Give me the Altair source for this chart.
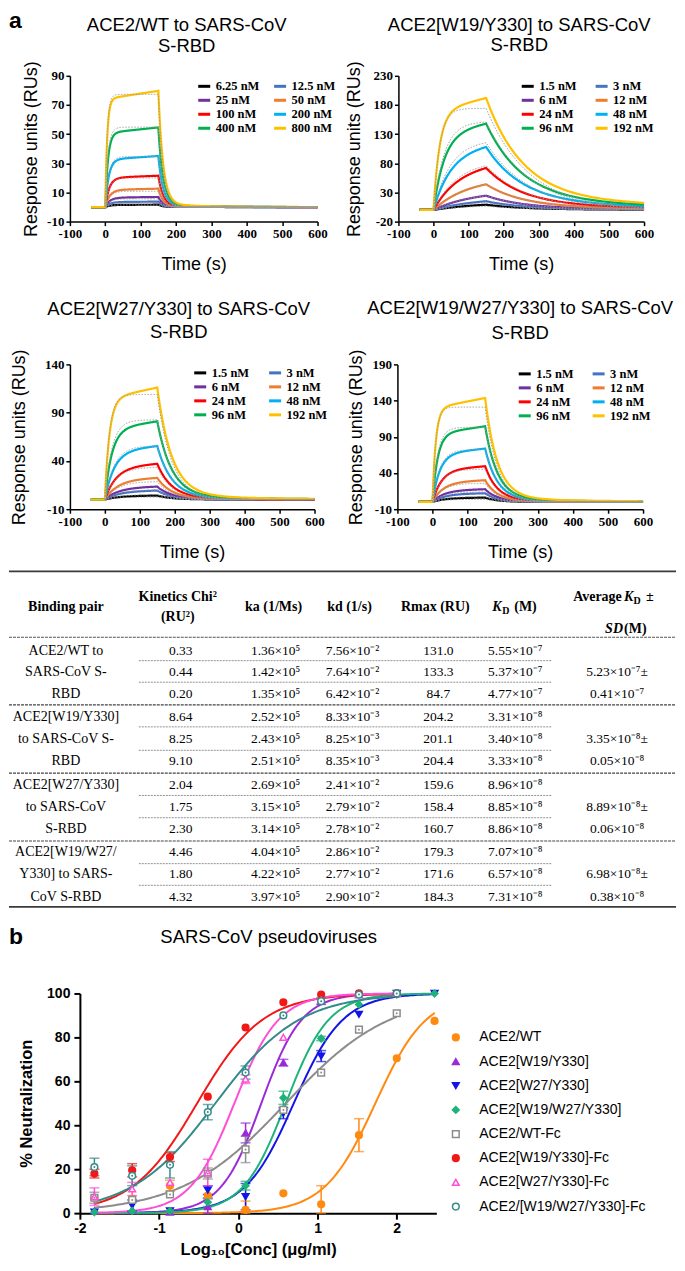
import numpy as np
import pandas as pd
import altair as alt

alt.data_transformers.disable_max_rows()

SERIF = "Liberation Serif"
SANS = "Liberation Sans"

# ======================= DATA: kinetics table =======================
pair_lines = [
    ["ACE2/WT to", "SARS-CoV S-", "RBD"],
    ["ACE2[W19/Y330]", "to SARS-CoV S-", "RBD"],
    ["ACE2[W27/Y330]", "to SARS-CoV", "S-RBD"],
    ["ACE2[W19/W27/", "Y330] to SARS-", "CoV S-RBD"],
]
chi2_RU2 = [0.33, 0.44, 0.20, 8.64, 8.25, 9.10, 2.04, 1.75, 2.30, 4.46, 1.80, 4.32]
ka_mant = [1.36, 1.42, 1.35, 2.52, 2.43, 2.51, 2.69, 3.15, 3.14, 4.04, 4.22, 3.97]
ka_exp = [5] * 12
kd_mant = [7.56, 7.64, 6.42, 8.33, 8.25, 8.35, 2.41, 2.79, 2.78, 2.86, 2.77, 2.90]
kd_exp = [-2, -2, -2, -3, -3, -3, -2, -2, -2, -2, -2, -2]
rmax_RU = [131.0, 133.3, 84.7, 204.2, 201.1, 204.4, 159.6, 158.4, 160.7, 179.3, 171.6, 184.3]
KD_mant = [5.55, 5.37, 4.77, 3.31, 3.40, 3.33, 8.96, 8.85, 8.86, 7.07, 6.57, 7.31]
KD_exp = [-7, -7, -7, -8, -8, -8, -8, -8, -8, -8, -8, -8]
avg_mant = [5.23, 3.35, 8.89, 6.98]
sd_mant = [0.41, 0.05, 0.06, 0.38]
avg_exp = [-7, -8, -8, -8]

# ======================= DATA: panel a (SPR sensorgrams) =======================
spr_titles = [
    ["ACE2/WT to SARS-CoV", "S-RBD"],
    ["ACE2[W19/Y330] to SARS-CoV", "S-RBD"],
    ["ACE2[W27/Y330] to SARS-CoV", "S-RBD"],
    ["ACE2[W19/W27/Y330] to SARS-CoV", "S-RBD"],
]
spr_conc_nM = [
    [6.25, 12.5, 25, 50, 100, 200, 400, 800],
    [1.5, 3, 6, 12, 24, 48, 96, 192],
    [1.5, 3, 6, 12, 24, 48, 96, 192],
    [1.5, 3, 6, 12, 24, 48, 96, 192],
]
# response at end of injection (t = 150 s)
spr_peak_RU = [
    [1.6, 3.7, 6.9, 12.6, 21.5, 35.0, 54.6, 79.7],
    [9.0, 15.0, 24.5, 44.0, 72.0, 108.0, 148.0, 192.0],
    [4.1, 9.3, 13.4, 22.4, 37.0, 55.4, 81.0, 116.0],
    [6.0, 12.0, 17.6, 30.0, 49.3, 73.7, 104.5, 143.6],
]
spr_drift = [0.07, 0.12, 0.10, 0.10]                  # slow drift share during injection
spr_dissoc = [(0.97, 0.0756, 0.010), (0.90, 0.0095, 0.0015),
              (0.96, 0.0241, 0.004), (0.96, 0.0286, 0.004)]  # (fast share, fast rate, slow rate)
spr_ydomain = [[-10, 90], [-20, 230], [-10, 140], [-10, 190]]
spr_yticks = [[-10, 10, 30, 50, 70, 90], [-20, 30, 80, 130, 180, 230],
              [-10, 40, 90, 140], [-10, 40, 90, 140, 190]]
time_ticks = [-100, 0, 100, 200, 300, 400, 500, 600]
spr_colors = ["#000000", "#4472C4", "#7030A0", "#ED7D31", "#FF0000", "#00B0F0", "#00B050", "#FFC000"]

# ======================= DATA: panel b (neutralization) =======================
nt_series = ["ACE2/WT", "ACE2[W19/Y330]", "ACE2[W27/Y330]", "ACE2[W19/W27/Y330]",
             "ACE2/WT-Fc", "ACE2[W19/Y330]-Fc", "ACE2[W27/Y330]-Fc", "ACE2/[W19/W27/Y330]-Fc"]
nt_colors = ["#FF8A12", "#9A2BD8", "#1414E6", "#1DB37A", "#8C8C8C", "#F21818", "#FF4FD8", "#378A8A"]
nt_shapes = ["circle", "triangle-up", "triangle-down", "diamond", "square", "circle", "triangle-up", "circle"]
nt_open = [False, False, False, False, True, False, True, True]
nt_conc_ugml = [0.01524, 0.04572, 0.1372, 0.4115, 1.235, 3.704, 11.11, 33.33, 100.0, 300.0]
nt_mean = [
    [7, 6.5, 12.5, 8, 1.5, 9, 4, 35.5, 70.5, 87.5],
    [1, 1.5, 0.5, 3, 36.5, 68.5, 96.5, 99.5, 100, None],
    [0.5, 3.5, 1, 10.5, 7.5, 45.5, 71.5, 90.5, 100, 100],
    [0.5, 1, 1, 5, 12.5, 52.5, 79.5, 95, 99.5, 100],
    [7, 6, 8.5, 18, 29, 47, 64, 83.5, 91, None],
    [18, 19.5, 25.5, 53, 84.5, 96, 99.5, 100, 100, None],
    [7.5, 11, 14, 18.5, 61, 80, 97, 99.5, 100, None],
    [21, 17, 22, 46, 64, 90, 96.5, 99.5, 100, None],
]
nt_err = [
    [0, 0, 2.5, 0, 4, 0, 8.5, 7.5, 0, 0],
    [0, 0, 0, 3.5, 4.5, 1.5, 0, 0, 0, 0],
    [0, 2.5, 0, 2, 6, 2.5, 2.5, 0, 0, 0],
    [0, 0, 0, 2, 2, 3, 1, 0, 0, 0],
    [2.5, 0, 0, 2.5, 6, 0, 0, 0, 0, 0],
    [2, 3, 2, 0, 0, 0, 0, 0, 0, 0],
    [4, 3, 0, 6, 2, 0, 0, 0, 0, 0],
    [4, 4.5, 6, 3.5, 3, 0, 1.5, 0, 0, 0],
]
nt_logec50 = [1.73, 0.29, 0.70, 0.60, 0.60, -0.52, -0.05, -0.29]
nt_hill = [1.35, 1.7, 1.4, 1.6, 0.66, 1.05, 1.55, 0.82]
nt_xmax = [2.48, 2.0, 2.48, 2.48, 2.0, 2.0, 2.0, 2.0]

# ======================= helpers =======================
SUP = str.maketrans("-0123456789", "⁻⁰¹²³⁴⁵⁶⁷⁸⁹")
HYPHEN = "replace(datum.label, '\u2212', '-')"
NO_VIEW = alt.ViewBackground(strokeWidth=0, stroke="transparent")


def sci(m, e):
    return f"{m:.2f}×10" + str(e).translate(SUP)


def text_layer(s, x, y, font=SANS, size=18.5, weight="normal", style="normal",
               align="center", baseline="middle"):
    return alt.Chart(pd.DataFrame({"s": [s]})).mark_text(
        font=font, fontSize=size, fontWeight=weight, fontStyle=style,
        align=align, baseline=baseline, color="black"
    ).encode(text="s:N", x=alt.value(x), y=alt.value(y))


def anchor_layer(x, y1, y2):
    return alt.Chart(pd.DataFrame({"z": [0]})).mark_rule(
        color="white", strokeOpacity=0.01, strokeWidth=0.5
    ).encode(x=alt.value(x), y=alt.value(y1), y2=alt.value(y2))


# ======================= panel a =======================
T_GRID = np.concatenate([[-40.0], np.arange(0, 150, 1.0), [150.0],
                         np.arange(152, 250, 2.0), np.arange(250, 601, 5.0)])


def spr_frame(i):
    ka = ka_mant[3 * i] * 10.0 ** ka_exp[3 * i]
    kd = kd_mant[3 * i] * 10.0 ** kd_exp[3 * i]
    rm = rmax_RU[3 * i]
    f = spr_drift[i]
    a, k1, k2 = spr_dissoc[i]
    rows = []
    for c, P in zip(spr_conc_nM[i], spr_peak_RU[i]):
        lab = f"{c:g} nM"
        C = c * 1e-9
        kobs = ka * C + kd
        req = rm * C / (C + kd / ka)
        norm = 1 - np.exp(-kobs * 150)
        fit150 = req * norm
        for t in T_GRID:
            if t < 0:
                r = 0.0
            elif t <= 150:
                r = P * ((1 - f) * (1 - np.exp(-kobs * t)) / norm + f * t / 150)
            else:
                dt = t - 150
                r = P * (a * np.exp(-k1 * dt) + (1 - a) * np.exp(-k2 * dt))
            rows.append((float(t), round(float(r), 3), lab, "data"))
            if t >= 0:
                fv = req * (1 - np.exp(-kobs * t)) if t <= 150 else fit150 * np.exp(-kd * (t - 150))
                rows.append((float(t), round(float(fv), 3), lab, "fit"))
    return pd.DataFrame(rows, columns=["t", "R", "label", "kind"])


AX_SPR = dict(domainColor="black", domainWidth=1.5, tickColor="black", tickWidth=1.5,
              tickSize=4, labelPadding=2, labelFont=SERIF, labelFontWeight="bold",
              labelFontSize=13, labelColor="black", titleFont=SANS, titleFontSize=18,
              titleFontWeight="normal", titleColor="black", grid=False,
              labelFlush=False, labelOverlap=False, labelExpr=HYPHEN)

SPR_LAYOUT = [
    dict(w=248, h=146, E=24, P=5, tx=117, ty=(-51, -30), lx=127, ly=3, cp=8),
    dict(w=246, h=146, E=26, P=9, tx=121, ty=(-51, -31), lx=122, ly=3, cp=12),
    dict(w=245, h=145, E=26, P=15, tx=109, ty=(-55, -32), lx=123, ly=1, cp=13),
    dict(w=246, h=145, E=26, P=6, tx=123, ty=(-56, -31), lx=120, ly=2, cp=12),
]


def spr_panel(i, extra=()):
    L = SPR_LAYOUT[i]
    df = spr_frame(i)
    labels = [f"{c:g} nM" for c in spr_conc_nM[i]]
    xenc = alt.X("t:Q", scale=alt.Scale(domain=[-100, 600], nice=False, zero=False),
                 axis=alt.Axis(values=time_ticks, title="Time (s)", titlePadding=15, **AX_SPR))
    yenc = alt.Y("R:Q", scale=alt.Scale(domain=spr_ydomain[i], nice=False, zero=False),
                 axis=alt.Axis(values=spr_yticks[i], title="Response units (RUs)",
                               titlePadding=L["P"], minExtent=L["E"], maxExtent=L["E"], **AX_SPR))
    legend = alt.Legend(orient="none", legendX=L["lx"], legendY=L["ly"], columns=2,
                        direction="horizontal",
                        symbolType="stroke", symbolStrokeWidth=3, symbolSize=144,
                        labelFont=SERIF, labelFontWeight="bold", labelFontSize=12.5,
                        labelColor="black", columnPadding=L["cp"], rowPadding=-1.4,
                        title=None, padding=0, labelOffset=4, labelLimit=300)
    data_line = alt.Chart(df[df.kind == "data"]).mark_line(strokeWidth=2.2).encode(
        x=xenc, y=yenc,
        color=alt.Color("label:N", scale=alt.Scale(domain=labels, range=spr_colors),
                        sort=labels, legend=legend))
    fit_line = alt.Chart(df[df.kind == "fit"]).mark_line(
        strokeWidth=1.0, strokeDash=[1.5, 1.5], color="#9a9a9a").encode(
        x=xenc, y=yenc, detail="label:N")
    t1 = text_layer(spr_titles[i][0], L["tx"], L["ty"][0])
    t2 = text_layer(spr_titles[i][1], L["tx"], L["ty"][1])
    return alt.layer(data_line, fit_line, t1, t2, *extra).properties(
        width=L["w"], height=L["h"], view=NO_VIEW)


p1 = spr_panel(0, extra=[
    text_layer("a", -61, -66, size=23, weight="bold", align="left", baseline="top"),
    anchor_layer(-61, -66, 204),
])
p2 = spr_panel(1)
p3 = spr_panel(2, extra=[anchor_layer(-58, -83, 198)])
p4 = spr_panel(3)

row1 = alt.hconcat(p1, p2, spacing=81, bounds="flush").resolve_scale(
    x="independent", y="independent", color="independent")
row2 = alt.hconcat(p3, p4, spacing=83, bounds="flush").resolve_scale(
    x="independent", y="independent", color="independent")

# ======================= table =======================
col_x = {"pair": 65, "chi": 180, "ka": 275, "kd": 352, "rmax": 438, "KD": 515, "avg": 617}
row_y = [647, 668.5, 690, 713, 735, 757, 781, 803, 825, 848, 870.5, 893]

body = []
for i in range(12):
    g, r = divmod(i, 3)
    body.append((pair_lines[g][r], col_x["pair"], row_y[i], 14))
    body.append((f"{chi2_RU2[i]:.2f}", col_x["chi"], row_y[i], 13.5))
    body.append((sci(ka_mant[i], ka_exp[i]), col_x["ka"], row_y[i], 13.5))
    body.append((sci(kd_mant[i], kd_exp[i]), col_x["kd"], row_y[i], 13.5))
    body.append((f"{rmax_RU[i]:.1f}", col_x["rmax"], row_y[i], 13.5))
    body.append((sci(KD_mant[i], KD_exp[i]), col_x["KD"], row_y[i], 13.5))
for g in range(4):
    body.append((sci(avg_mant[g], avg_exp[g]) + "±", col_x["avg"], row_y[3 * g + 1], 13.5))
    body.append((sci(sd_mant[g], avg_exp[g]), col_x["avg"], row_y[3 * g + 2], 13.5))
body_df = pd.DataFrame(body, columns=["text", "x", "y", "size"])

header = [
    ("Binding pair", 65, 603, "b", "center"),
    ("Kinetics Chi²", 177, 593, "b", "center"),
    ("(RU²)", 177, 613, "b", "center"),
    ("ka (1/Ms)", 273, 603, "b", "center"),
    ("kd (1/s)", 349, 603, "b", "center"),
    ("Rmax (RU)", 435, 603, "b", "center"),
    ("K", 492, 603, "bi", "left"),
    ("D", 502, 607, "bs", "left"),
    ("(M)", 514, 603, "b", "left"),
    ("Average", 573, 593, "b", "left"),
    ("K", 624, 593, "bi", "left"),
    ("D", 633.5, 597, "bs", "left"),
    ("±", 646, 593, "b", "left"),
    ("SD", 605, 625, "bi", "left"),
    ("(M)", 624, 625, "b", "left"),
]
hdr_df = pd.DataFrame(header, columns=["text", "x", "y", "style", "align"])

lines = [(8, 676, 567.3, "solid"), (8, 676, 633.3, "hdr"),
         (8, 676, 701, "grp"), (8, 676, 769.3, "grp"), (8, 676, 837.3, "grp"),
         (8, 676, 903.3, "solid")]
for yy in [656.7, 678.3, 723, 746.5, 791.7, 814, 860, 881.7]:
    lines.append((138, 552, yy, "intra"))
lines_df = pd.DataFrame(lines, columns=["x1", "x2", "y", "kind"])

TABLE_W = 608
TX = alt.Scale(domain=[69, 69 + TABLE_W], nice=False, zero=False)
TY = alt.Scale(domain=[560, 910], reverse=True, nice=False, zero=False)


def tline(kind, **mk):
    d = lines_df[lines_df.kind == kind]
    return alt.Chart(d).mark_rule(**mk).encode(
        x=alt.X("x1:Q", scale=TX, axis=None), x2="x2:Q",
        y=alt.Y("y:Q", scale=TY, axis=None))


def ttext(d, **mk):
    return alt.Chart(d).mark_text(font=SERIF, color="black", baseline="middle", **mk).encode(
        x=alt.X("x:Q", scale=TX, axis=None), y=alt.Y("y:Q", scale=TY, axis=None), text="text:N")


table_layers = [
    tline("solid", color="#3a3a3a", strokeWidth=1.6),
    tline("hdr", color="#555555", strokeWidth=1.1, strokeDash=[3, 1]),
    tline("grp", color="#444444", strokeWidth=1.2, strokeDash=[3, 1]),
    tline("intra", color="#777777", strokeWidth=0.8, strokeDash=[2, 1]),
    ttext(body_df[body_df["size"] == 14], fontSize=14, align="center"),
    ttext(body_df[body_df["size"] == 13.5], fontSize=13.5, align="center"),
    ttext(hdr_df[(hdr_df["style"] == "b") & (hdr_df["align"] == "center")], fontSize=14, fontWeight="bold", align="center"),
    ttext(hdr_df[(hdr_df["style"] == "b") & (hdr_df["align"] == "left")], fontSize=14, fontWeight="bold", align="left"),
    ttext(hdr_df[hdr_df["style"] == "bi"], fontSize=14, fontWeight="bold", fontStyle="italic", align="left"),
    ttext(hdr_df[hdr_df["style"] == "bs"], fontSize=10, fontWeight="bold", align="left"),
    anchor_layer(0, 0, 350),
]
table = alt.layer(*table_layers).properties(width=TABLE_W, height=350, view=NO_VIEW)

# ======================= panel b =======================
lx_pts = np.log10(nt_conc_ugml)
curve_rows, pt_rows, err_rows, cap_rows = [], [], [], []
for s in range(8):
    xs = np.linspace(-1.82, nt_xmax[s], 160)
    for xv in xs:
        yv = 100.0 / (1.0 + 10.0 ** ((nt_logec50[s] - xv) * nt_hill[s]))
        curve_rows.append((nt_series[s], round(float(xv), 4), round(float(yv), 3), nt_colors[s]))
    for k in range(10):
        v = nt_mean[s][k]
        if v is None:
            continue
        pt_rows.append((nt_series[s], float(lx_pts[k]), v, nt_colors[s], nt_open[s]))
        e = nt_err[s][k]
        if e > 0:
            lo, hi = max(0.0, v - e), min(101.0, v + e)
            err_rows.append((float(lx_pts[k]), lo, hi, nt_colors[s]))
            cap_rows.append((float(lx_pts[k]), lo, nt_colors[s]))
            cap_rows.append((float(lx_pts[k]), hi, nt_colors[s]))
curve_df = pd.DataFrame(curve_rows, columns=["series", "lx", "v", "col"])
pt_df = pd.DataFrame(pt_rows, columns=["series", "lx", "v", "col", "open"])
err_df = pd.DataFrame(err_rows, columns=["lx", "lo", "hi", "col"])
cap_df = pd.DataFrame(cap_rows, columns=["lx", "v", "col"])
dot_df = pt_df[pt_df["series"].isin(["ACE2/WT-Fc", "ACE2/[W19/W27/Y330]-Fc"])]

AX_B = dict(domainColor="black", domainWidth=2, tickColor="black", tickWidth=2, tickSize=6,
            labelFont=SANS, labelFontWeight="bold", labelFontSize=14, labelColor="black",
            titleFont=SANS, titleFontWeight="bold", titleFontSize=16.5, titleColor="black",
            grid=False, labelFlush=False, labelOverlap=False, labelExpr=HYPHEN)
XB_SCALE = alt.Scale(domain=[-2, 2.5], nice=False, zero=False)
YB_SCALE = alt.Scale(domain=[0, 100], nice=False)
XB_AXIS = alt.Axis(values=[-2, -1, 0, 1, 2], title="Log₁₀[Conc] (μg/ml)", titlePadding=6,
                   labelPadding=2, **AX_B)
YB_AXIS = alt.Axis(values=[0, 20, 40, 60, 80, 100], title="% Neutralization", titlePadding=11,
                   labelPadding=4, minExtent=34, maxExtent=34, **AX_B)


def xb(field="lx"):
    return alt.X(f"{field}:Q", scale=XB_SCALE, axis=XB_AXIS)


def yb(field="v"):
    return alt.Y(f"{field}:Q", scale=YB_SCALE, axis=YB_AXIS)


fill_range = ["white" if o else c for o, c in zip(nt_open, nt_colors)]
LEG_B = alt.Legend(orient="none", legendX=369.5, legendY=37, title=None, labelFont=SANS,
                   labelFontSize=14, labelColor="black", rowPadding=10.2, symbolSize=45,
                   symbolStrokeWidth=1.5, labelOffset=16.5, padding=0, labelLimit=300)

curves = alt.Chart(curve_df).mark_line(strokeWidth=2).encode(
    x=xb(), y=yb(), detail="series:N", color=alt.Color("col:N", scale=None))
err_rule = alt.Chart(err_df).mark_rule(strokeWidth=1.5).encode(
    x=xb(), y=yb("lo"), y2="hi:Q", color=alt.Color("col:N", scale=None))
err_cap = alt.Chart(cap_df).mark_tick(orient="horizontal", size=10, thickness=1.5).encode(
    x=xb(), y=yb(), color=alt.Color("col:N", scale=None))
points = alt.Chart(pt_df).mark_point(size=45, strokeWidth=1.5, opacity=1).encode(
    x=xb(), y=yb(),
    shape=alt.Shape("series:N", scale=alt.Scale(domain=nt_series, range=nt_shapes), legend=LEG_B),
    stroke=alt.Stroke("series:N", scale=alt.Scale(domain=nt_series, range=nt_colors), legend=LEG_B),
    fill=alt.Fill("series:N", scale=alt.Scale(domain=nt_series, range=fill_range), legend=LEG_B))
dots = alt.Chart(dot_df).mark_point(filled=True, size=4, opacity=1).encode(
    x=xb(), y=yb(), color=alt.Color("col:N", scale=None))

pb = alt.layer(
    curves, err_rule, err_cap, points, dots,
    text_layer("SARS-CoV pseudoviruses", 189, -57, size=18.5),
    text_layer("b", -71, -68, size=23, weight="bold", align="left", baseline="top"),
    anchor_layer(-71, -78, 0),
).properties(width=357, height=220, view=NO_VIEW)

spacer = anchor_layer(0, 0, 1).properties(width=1, height=1, view=NO_VIEW)
row_b = alt.hconcat(spacer, pb, spacing=9, bounds="flush").resolve_scale(
    x="independent", y="independent", shape="independent", fill="independent",
    stroke="independent", color="independent")

chart = alt.vconcat(row1, row2, table, row_b, spacing=0).resolve_scale(
    x="independent", y="independent", color="independent", shape="independent",
    fill="independent", stroke="independent"
).properties(padding=0).configure_view(strokeWidth=0, stroke="transparent").configure(font=SANS)

chart.save("out.html", embed_options={"renderer": "svg", "actions": False})
